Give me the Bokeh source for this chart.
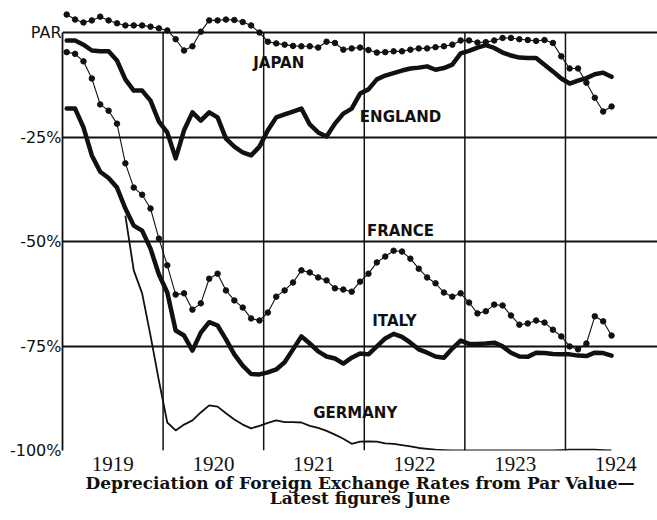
import math
from bokeh.plotting import figure
from bokeh.models import Range1d, FixedTicker, ColumnDataSource, Title
from bokeh.core.properties import value
from bokeh.embed import file_html
from bokeh.resources import INLINE

NAN = float("nan")

# Monthly values, Jan 1919 .. Jun 1924, percent depreciation from par
START_YEAR = 1919
japan = [4.3, 3.1, 2.4, 2.9, 3.8, 2.9, 2.2, 1.7, 1.7, 1.7, 1.4, 1.0,
         0.5, -1.6, -4.3, -3.3, 0.2, 2.9, 2.9, 3.1, 3.0, 2.5, 1.7, 0.0,
         -2.2, -2.6, -2.9, -3.2, -3.3, -3.3, -3.6, -2.2, -2.5, -4.1, -3.8, -3.6,
         -4.2, -4.8, -4.7, -4.5, -4.5, -4.1, -3.8, -3.8, -3.5, -3.3, -2.9, -1.9,
         -1.9, -2.4, -2.3, -1.9, -1.3, -1.3, -1.6, -1.8, -2.0, -1.8, -2.5, -5.7,
         -8.6, -8.6, -12.0, -15.6, -18.9, -17.7]
england = [-1.9, -1.9, -2.9, -4.3, -4.5, -4.5, -6.7, -11.2, -13.9, -13.9, -16.3, -21.3,
           -23.9, -30.1, -23.4, -19.1, -21.1, -19.1, -20.3, -25.4, -27.3, -28.7, -29.4, -27.3,
           -23.4, -20.3, -19.6, -18.9, -18.2, -22.0, -23.9, -24.9, -21.8, -19.4, -18.2, -14.6,
           -13.6, -11.2, -10.3, -9.7, -9.1, -8.6, -8.4, -8.1, -8.9, -8.5, -7.7, -5.0,
           -4.4, -3.6, -3.0, -3.7, -4.8, -5.5, -6.0, -6.1, -6.1, -7.7, -9.3, -11.0,
           -12.2, -11.5, -10.9, -10.0, -9.6, -10.6]
france = [-4.7, -5.1, -6.9, -11.0, -17.2, -18.7, -21.8, -31.3, -37.1, -38.8, -42.1, -49.3,
          -55.7, -62.7, -62.4, -66.3, -64.8, -58.9, -57.7, -61.7, -64.1, -65.8, -68.4, -68.9,
          -67.0, -63.2, -61.7, -59.8, -56.9, -57.4, -58.6, -59.3, -61.2, -61.5, -62.0, -59.6,
          -57.7, -55.0, -53.6, -52.2, -52.4, -54.1, -56.5, -58.6, -60.0, -62.2, -63.2, -62.4,
          -64.6, -67.2, -66.7, -65.1, -65.3, -67.7, -69.9, -69.6, -68.9, -69.4, -71.1, -72.7,
          -75.1, -75.8, -74.4, -67.9, -69.1, -72.5]
italy = [-18.2, -18.2, -22.7, -29.4, -33.3, -34.8, -37.1, -42.1, -46.2, -47.4, -51.7, -57.9,
         -62.2, -71.3, -72.5, -76.1, -71.8, -69.3, -70.1, -73.4, -77.0, -79.7, -81.7, -81.8,
         -81.3, -80.6, -78.9, -75.8, -72.7, -74.4, -76.3, -77.5, -78.0, -79.2, -77.8, -76.8,
         -77.0, -75.1, -73.2, -72.1, -72.8, -74.2, -75.8, -76.6, -77.5, -77.8, -75.6, -73.7,
         -74.5, -74.5, -74.4, -74.2, -75.1, -76.6, -77.5, -77.6, -76.6, -76.7, -76.9, -77.0,
         -77.0, -77.3, -77.4, -76.6, -76.7, -77.3]
germany = [NAN, NAN, NAN, NAN, NAN, NAN, NAN, -43.8, -56.9, -62.4, -72.5, -83.3,
           -93.3, -95.2, -93.8, -92.8, -90.9, -89.2, -89.5, -91.1, -92.6, -93.8, -94.7, -94.1,
           -93.4, -92.8, -93.2, -93.2, -93.3, -94.1, -94.6, -95.3, -96.2, -97.2, -98.4, -97.9,
           -97.8, -97.9, -98.3, -98.4, -98.7, -99.0, -99.4, -99.6, -99.8, -99.9, -100.0, -100.0,
           -100.0, -100.0, -100.0, -100.0, -100.0, -100.0, -100.0, -100.0, -100.0, -100.0, -100.0, -99.9,
           -99.8, -99.8, -99.8, -99.8, -99.9, -100.0]

Y_TICKS = [0, -25, -50, -75, -100]
Y_LABELS = ["PAR", "-25%", "-50%", "-75%", "-100%"]
YEAR_LINES = [1920, 1921, 1922, 1923, 1924]
YEAR_TICKS = [1919.5, 1920.5, 1921.5, 1922.5, 1923.5, 1924.5]
YEAR_LABELS = ["1919", "1920", "1921", "1922", "1923", "1924"]

LABEL_TEXT = ["JAPAN", "ENGLAND", "FRANCE", "ITALY", "GERMANY"]
LABEL_X = [1921.15, 1922.36, 1922.36, 1922.30, 1921.91]
LABEL_Y = [-7.2, -20.1, -47.6, -69.1, -91.0]

TITLE_1 = "Depreciation of Foreign Exchange Rates from Par Value\u2014"
TITLE_2 = "Latest figures June"

months = [START_YEAR + (i + 0.5) / 12 for i in range(len(japan))]
src = ColumnDataSource(dict(x=months, japan=japan, england=england, france=france,
                            italy=italy, germany=germany))

INK = "#111111"

p = figure(width=657, height=520, x_range=Range1d(1919, 1924.915), y_range=Range1d(-100, 7.66),
           output_backend="svg", toolbar_location=None,
           min_border_left=62, min_border_right=0, min_border_top=0, min_border_bottom=70)
p.outline_line_color = None
p.background_fill_color = "white"

# grid
p.xgrid.visible = False
p.ygrid.ticker = FixedTicker(ticks=Y_TICKS)
p.ygrid.grid_line_color = INK
p.ygrid.grid_line_width = 1.8
p.segment(x0=YEAR_LINES, y0=[Y_TICKS[0]] * len(YEAR_LINES), x1=YEAR_LINES,
          y1=[Y_TICKS[-1]] * len(YEAR_LINES), line_color=INK, line_width=1.5)

# axes
p.yaxis.ticker = FixedTicker(ticks=Y_TICKS)
p.yaxis.major_label_overrides = {t: l for t, l in zip(Y_TICKS, Y_LABELS)}
p.yaxis.bounds = (Y_TICKS[-1], Y_TICKS[0])
p.yaxis.axis_line_color = INK
p.yaxis.axis_line_width = 1.8
p.yaxis.major_tick_line_color = None
p.yaxis.minor_tick_line_color = None
p.yaxis.major_tick_out = 0
p.yaxis.major_tick_in = 0
p.yaxis.major_label_standoff = 1
p.yaxis.major_label_text_font = "DejaVu Sans"
p.yaxis.major_label_text_font_size = "16px"
p.yaxis.major_label_text_color = INK

p.xaxis.ticker = FixedTicker(ticks=YEAR_TICKS)
p.xaxis.major_label_overrides = {t: l for t, l in zip(YEAR_TICKS, YEAR_LABELS)}
p.xaxis.axis_line_color = None
p.xaxis.major_tick_line_color = None
p.xaxis.minor_tick_line_color = None
p.xaxis.major_tick_out = 0
p.xaxis.major_tick_in = 0
p.xaxis.major_label_standoff = 6
p.xaxis.major_label_text_font = "Liberation Serif"
p.xaxis.major_label_text_font_size = "21px"
p.xaxis.major_label_text_color = INK

# series
p.line("x", "germany", source=src, line_color=INK, line_width=1.8, line_join="round")
p.line("x", "italy", source=src, line_color=INK, line_width=4.5, line_join="round", line_cap="round")
p.line("x", "england", source=src, line_color=INK, line_width=4.5, line_join="round", line_cap="round")
p.line("x", "france", source=src, line_color=INK, line_width=1.1)
p.scatter("x", "france", source=src, size=5.5, color=INK)
p.line("x", "japan", source=src, line_color=INK, line_width=1.1)
p.scatter("x", "japan", source=src, size=5.5, color=INK)

p.text(x=LABEL_X, y=LABEL_Y, text=LABEL_TEXT, text_font=value("DejaVu Sans"),
       text_font_style="bold", text_font_size="15px", text_align="center",
       text_baseline="middle", text_color=INK)

p.add_layout(Title(text=TITLE_1, align="center", text_font="DejaVu Serif",
                   text_font_style="bold", text_font_size="17px", text_color=INK,
                   standoff=-5, offset=0, text_line_height=0.8), "below")
p.add_layout(Title(text=TITLE_2, align="center", text_font="DejaVu Serif",
                   text_font_style="bold", text_font_size="17px", text_color=INK,
                   standoff=-9, offset=0, text_line_height=0.8), "below")

open("out.html", "w").write(file_html(p, INLINE))
